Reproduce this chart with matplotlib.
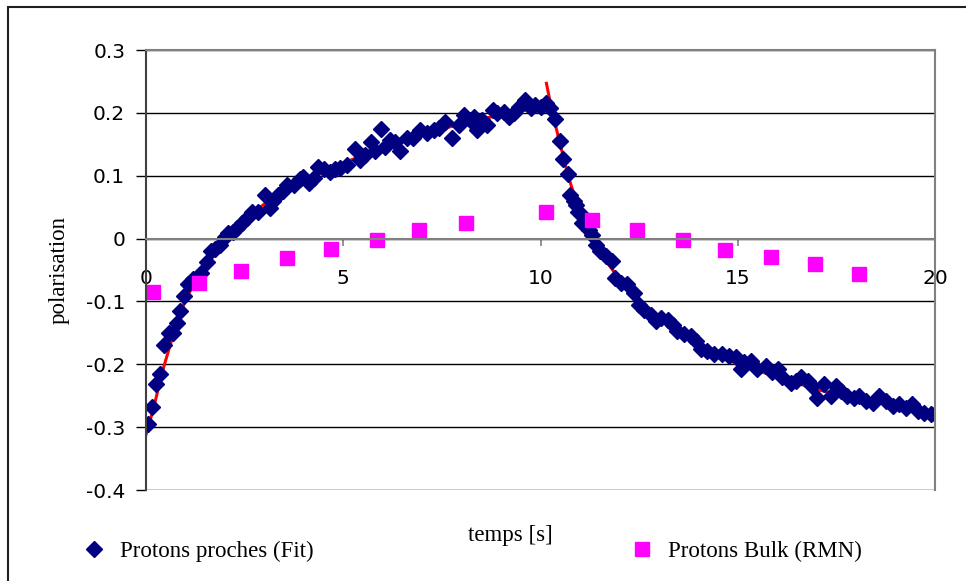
import numpy as np
import matplotlib
matplotlib.use("Agg")
import matplotlib.pyplot as plt
from matplotlib.patches import Rectangle
from matplotlib.lines import Line2D

# data
t_fit = [0.06, 0.16, 0.25, 0.36, 0.46, 0.58, 0.68, 0.78, 0.86, 0.97,
         1.07, 1.19, 1.39, 1.54, 1.65, 1.75, 1.88, 2.00, 2.08, 2.20,
         2.30, 2.43, 2.56, 2.68, 2.84, 3.02, 3.15, 3.23, 3.35, 3.48,
         3.57, 3.74, 3.90, 3.99, 4.12, 4.25, 4.37, 4.50, 4.67, 4.80,
         4.92, 5.09, 5.30, 5.43, 5.56, 5.70, 5.81, 5.96, 6.07, 6.19,
         6.32, 6.45, 6.62, 6.78, 6.95, 7.12, 7.29, 7.42, 7.59, 7.76,
         7.93, 8.07, 8.22, 8.31, 8.39, 8.52, 8.65, 8.80, 8.90, 9.07,
         9.20, 9.32, 9.45, 9.60, 9.75, 9.87, 10.00, 10.13, 10.25, 10.38,
         10.49, 10.57, 10.69, 10.76, 10.84, 10.89, 10.95, 11.00, 11.06, 11.18,
         11.23, 11.31, 11.40, 11.52, 11.65, 11.82, 11.90, 12.03, 12.20, 12.37,
         12.50, 12.62, 12.79, 12.92, 13.05, 13.22, 13.35, 13.47, 13.64, 13.81,
         13.93, 14.06, 14.23, 14.39, 14.61, 14.78, 14.95, 15.08, 15.16, 15.33,
         15.50, 15.71, 15.88, 16.01, 16.13, 16.35, 16.47, 16.61, 16.77, 16.89,
         17.02, 17.19, 17.36, 17.49, 17.61, 17.78, 17.95, 18.07, 18.25, 18.42,
         18.58, 18.76, 18.93, 19.09, 19.26, 19.41, 19.56, 19.73, 19.90, 20.00]
p_fit = [-0.295, -0.268, -0.232, -0.216, -0.170, -0.151, -0.151, -0.134, -0.115, -0.092,
         -0.073, -0.065, -0.054, -0.037, -0.020, -0.016, -0.010, 0.003, 0.009, 0.011,
         0.017, 0.025, 0.033, 0.043, 0.043, 0.070, 0.049, 0.059, 0.070, 0.075,
         0.086, 0.086, 0.094, 0.098, 0.089, 0.097, 0.114, 0.110, 0.106, 0.110,
         0.113, 0.117, 0.142, 0.125, 0.133, 0.153, 0.139, 0.174, 0.146, 0.157,
         0.154, 0.139, 0.160, 0.160, 0.173, 0.168, 0.173, 0.176, 0.186, 0.160,
         0.181, 0.197, 0.189, 0.194, 0.173, 0.189, 0.181, 0.205, 0.200, 0.202,
         0.194, 0.200, 0.210, 0.221, 0.207, 0.213, 0.210, 0.215, 0.207, 0.190,
         0.155, 0.127, 0.102, 0.070, 0.059, 0.054, 0.043, 0.041, 0.024, 0.020,
         0.014, 0.006, -0.010, -0.020, -0.028, -0.036, -0.062, -0.070, -0.073, -0.086,
         -0.105, -0.113, -0.121, -0.131, -0.126, -0.129, -0.137, -0.147, -0.152, -0.155,
         -0.163, -0.176, -0.179, -0.184, -0.184, -0.187, -0.189, -0.208, -0.197, -0.195,
         -0.208, -0.203, -0.213, -0.208, -0.221, -0.229, -0.227, -0.221, -0.227, -0.234,
         -0.253, -0.232, -0.250, -0.234, -0.242, -0.250, -0.253, -0.250, -0.258, -0.261,
         -0.250, -0.258, -0.266, -0.263, -0.269, -0.263, -0.274, -0.277, -0.279, -0.279]

# fitted curve, two branches
t_rise = [0.0, 0.2, 0.4, 0.6, 0.8, 1.0, 1.3, 1.6, 2.0, 2.5, 3.0, 3.5, 4.0,
          5.0, 6.0, 7.0, 8.0, 9.0, 10.0, 10.1]
p_rise = [-0.312, -0.268, -0.215, -0.172, -0.132, -0.098, -0.062, -0.032, 0.003, 0.030,
          0.055, 0.075, 0.093, 0.120, 0.145, 0.165, 0.183, 0.197, 0.209, 0.211]
t_decay = [10.15, 10.3, 10.5, 10.7, 11.0, 11.3, 11.6, 12.0, 12.5, 13.0, 14.0,
           15.0, 16.0, 17.0, 18.0, 19.0, 20.0]
p_decay = [0.247, 0.200, 0.150, 0.100, 0.040, 0.002, -0.030, -0.065, -0.100, -0.125, -0.170,
           -0.200, -0.220, -0.240, -0.255, -0.266, -0.278]

t_bulk = [0.18, 1.35, 2.4, 3.58, 4.7, 5.86, 6.93, 8.1, 10.15, 11.3, 12.44, 13.6,
          14.67, 15.84, 16.95, 18.07]
p_bulk = [-0.085, -0.070, -0.051, -0.031, -0.016, -0.003, 0.013, 0.025, 0.042, 0.030,
          0.013, -0.003, -0.018, -0.030, -0.041, -0.056]

y_ticks = [0.3, 0.2, 0.1, 0.0, -0.1, -0.2, -0.3, -0.4]
y_labels = ["0.3", "0.2", "0.1", "0", "-0.1", "-0.2", "-0.3", "-0.4"]
x_ticks = [0, 5, 10, 15, 20]

navy = "#000080"
magenta = "#FF00FF"
serif = "Liberation Serif"

fig = plt.figure(figsize=(9.66, 5.81), dpi=100)
ax = fig.add_axes([146 / 966, 1 - 490 / 581, (935 - 146) / 966, (490 - 50) / 581])

ax.plot(t_rise, p_rise, color="red", lw=2.2, zorder=2)
ax.plot(t_decay, p_decay, color="red", lw=2.2, zorder=2)
ax.plot(t_fit, p_fit, ls="none", marker="D", ms=8.5, color=navy, mec=navy, zorder=3)
ax.plot(t_bulk, p_bulk, ls="none", marker="s", ms=9.5, color=magenta, mec=magenta, zorder=3)

ax.set_xlim(0, 20)
ax.set_ylim(-0.4, 0.3)
ax.set_yticks(y_ticks)
ax.set_yticklabels(y_labels)
ax.set_xticks(x_ticks)
ax.set_xticklabels([str(v) for v in x_ticks])
ax.yaxis.grid(True, color="black", lw=1.0, zorder=0)
ax.set_axisbelow(True)

ax.spines["bottom"].set_position(("data", 0))
ax.spines["bottom"].set_color("#808080")
ax.spines["top"].set_color("#808080")
ax.spines["right"].set_color("#808080")
ax.spines["left"].set_color("#404040")
for s in ax.spines.values():
    s.set_linewidth(1.5)
    s.set_zorder(4)

ax.tick_params(axis="y", direction="out", length=7, width=1, color="black",
               labelsize=14.5, pad=8)
ax.tick_params(axis="x", direction="out", length=5, width=1.2, color="#808080",
               labelsize=14.5, pad=17)

ax.set_ylabel("polarisation", family=serif, fontsize=16.5, labelpad=12)
fig.text(510 / 966, 1 - 536 / 581, "temps [s]", family=serif, fontsize=16.5,
         ha="center", va="center")

# legend below the plot, as in the spreadsheet layout
h1 = Line2D([], [], ls="none", marker="D", ms=8.5, color=navy)
h2 = Line2D([], [], ls="none", marker="s", ms=9.5, color=magenta)
leg_kw = dict(loc="center left", frameon=False, borderpad=0, borderaxespad=0,
              handlelength=1.0, handletextpad=0.6,
              prop={"family": serif, "size": 16.5})
fig.legend([h1], ["Protons proches (Fit)"],
           bbox_to_anchor=(83 / 966, 1 - 551 / 581), **leg_kw)
fig.legend([h2], ["Protons Bulk (RMN)"],
           bbox_to_anchor=(631 / 966, 1 - 551 / 581), **leg_kw)

# outer chart border
fig.add_artist(Rectangle((8 / 966, -0.05), 1.1, 1.05 - 7 / 581,
                         transform=fig.transFigure, fill=False,
                         edgecolor="#202020", lw=1.5))

fig.savefig("out.png", dpi=100)
